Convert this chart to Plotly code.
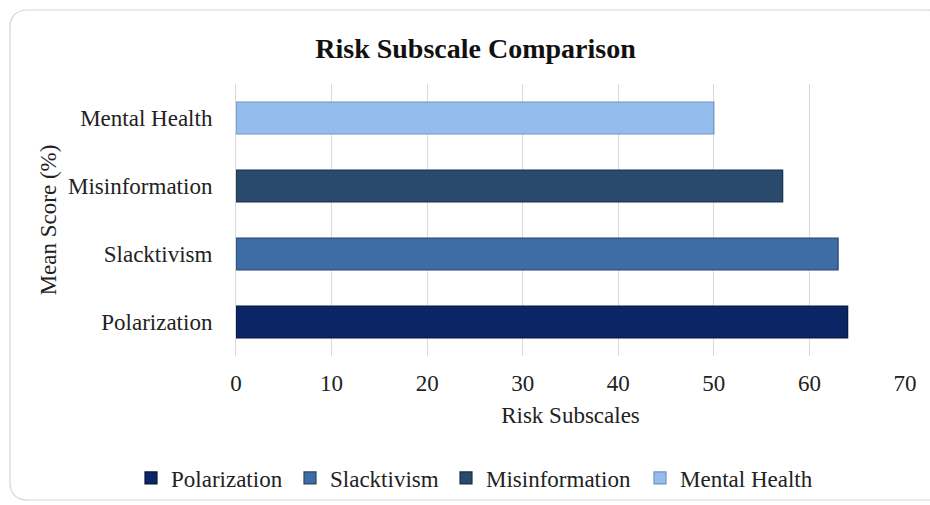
import plotly.graph_objects as go

categories = ["Polarization", "Slacktivism", "Misinformation", "Mental Health"]
mean_scores = [64, 63, 57.2, 50]
bar_colors = ["#0c2565", "#3f6ca4", "#2a4a6d", "#94bdee"]
edge_colors = ["#06163f", "#27466f", "#182f4a", "#6f93c0"]
x_ticks = [0, 10, 20, 30, 40, 50, 60, 70]

W, H = 930, 505
L, R, T, B = 236, 25, 84, 149
pw, ph = W - L - R, H - T - B

FONT = "Liberation Serif, Times New Roman, serif"

# horizontal positions (px) of each legend entry
legend_px = [131, 290, 446, 640]
legend_names = ["legend", "legend2", "legend3", "legend4"]

fig = go.Figure()
for cat, val, col, ec, lg in zip(categories, mean_scores, bar_colors, edge_colors, legend_names):
    fig.add_trace(go.Bar(
        y=[cat], x=[val], name=cat, orientation="h",
        marker=dict(color=col, line=dict(color=ec, width=1.2)),
        width=0.47, legend=lg,
    ))

# card border (rounded rectangle) in paper coordinates
def px_x(p):
    return (p - L) / pw

def px_y(p):
    return (H - B - p) / ph

x0, x1, y0, y1, r = 10, 945, 10, 500, 18
rx, ry = r / pw, r / ph
X0, X1, Y0, Y1 = px_x(x0), px_x(x1), px_y(y1), px_y(y0)
path = (f"M {X0+rx},{Y1} L {X1-rx},{Y1} Q {X1},{Y1} {X1},{Y1-ry} "
        f"L {X1},{Y0+ry} Q {X1},{Y0} {X1-rx},{Y0} L {X0+rx},{Y0} "
        f"Q {X0},{Y0} {X0},{Y0+ry} L {X0},{Y1-ry} Q {X0},{Y1} {X0+rx},{Y1} Z")

legend_style = dict(orientation="h", xref="container", yref="container",
                    xanchor="left", y=1 - 478 / H, yanchor="middle",
                    itemwidth=30,
                    font=dict(family=FONT, size=23, color="#222222"),
                    bgcolor="rgba(0,0,0,0)")

layout_legends = {lg: dict(legend_style, x=px / W) for lg, px in zip(legend_names, legend_px)}

fig.update_layout(
    width=W, height=H,
    margin=dict(l=L, r=R, t=T, b=B, autoexpand=False),
    paper_bgcolor="white", plot_bgcolor="white",
    barmode="relative",
    font=dict(family=FONT, size=23, color="#222222"),
    title=dict(text="<b>Risk Subscale Comparison</b>",
               font=dict(family=FONT, size=28, color="#111111"),
               x=475.5 / W, xref="container", xanchor="center",
               y=1 - 48 / H, yref="container", yanchor="middle"),
    xaxis=dict(range=[0, 70], tickvals=x_ticks, ticktext=[str(v) for v in x_ticks],
               showgrid=True, gridcolor="#d9d9d9", gridwidth=1,
               zeroline=False, showline=False, ticks="",
               ticklabelstandoff=11,
               title=dict(text="Risk Subscales", standoff=11,
                          font=dict(family=FONT, size=23, color="#222222")),
               fixedrange=True),
    yaxis=dict(categoryorder="array", categoryarray=categories,
               showgrid=False, showline=True, linecolor="#d9d9d9", linewidth=1,
               ticks="", ticklabelstandoff=18,
               title=dict(text="Mean Score (%)", standoff=4,
                          font=dict(family=FONT, size=23, color="#222222")),
               fixedrange=True),
    shapes=[dict(type="path", path=path, xref="paper", yref="paper",
                 line=dict(color="#d6d6d6", width=1.2), fillcolor="rgba(0,0,0,0)",
                 layer="below")],
    showlegend=True,
    **layout_legends,
)

fig.write_html("out.html")
